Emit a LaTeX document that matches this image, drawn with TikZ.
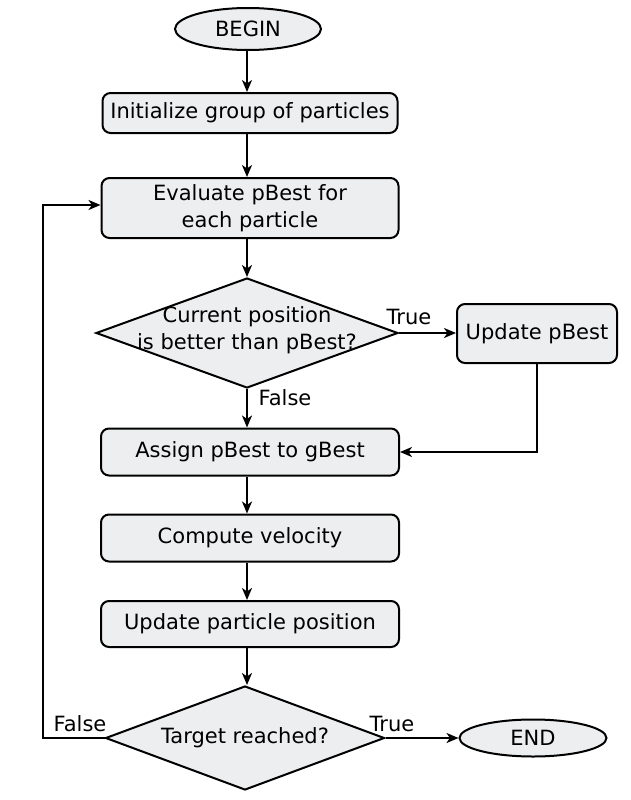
\documentclass[tikz,border=0pt]{standalone}
\usepackage{fontspec}
\setmainfont{DejaVu Sans}
\usetikzlibrary{shapes.geometric,arrows.meta}
\definecolor{boxfill}{HTML}{EDEEEF}
\begin{document}
\begin{tikzpicture}[x=1pt,y=-1pt,
  every node/.style={font=\fontsize{21}{27}\selectfont},
  base/.style={draw=black,line width=2pt,fill=boxfill,inner sep=0pt},
  procbox/.style={base,rectangle,rounded corners=8pt,align=center},
  term/.style={base,ellipse},
  decision/.style={base,diamond,align=center},
  lbl/.style={inner sep=0pt},
  conn/.style={line width=2pt,-{Stealth[length=12pt,width=10pt,inset=3.5pt]}}]
\useasboundingbox (0,0) rectangle (631,800);
\node[term,minimum width=146pt,minimum height=42pt] (begin) at (248,29) {BEGIN};
\node[procbox,minimum width=295pt,minimum height=40pt] (init) at (250,113) {Initialize group of particles};
\node[procbox,minimum width=297pt,minimum height=60pt] (eval) at (250,208) {Evaluate pBest for\\each particle};
\node[decision,shape aspect=2.75,minimum width=302pt,minimum height=110pt] (dec1) at (247,333) {};
\node[lbl,align=center] (dec1text) at (247,330) {Current position\\is better than pBest?};
\node[procbox,minimum width=160pt,minimum height=59pt] (upd) at (537,333.5) {Update pBest};
\node[procbox,minimum width=298pt,minimum height=47pt] (assign) at (250,452) {Assign pBest to gBest};
\node[procbox,minimum width=298pt,minimum height=47pt] (comp) at (250,538) {Compute velocity};
\node[procbox,minimum width=298pt,minimum height=46pt] (pos) at (250,624) {Update particle position};
\node[decision,shape aspect=2.7,minimum width=279pt,minimum height=104pt] (dec2) at (245,738) {Target reached?};
\node[term,minimum width=147pt,minimum height=37pt] (end) at (533,738) {END};
\coordinate (spine) at (247,0);
\coordinate (loopx) at (43,738);
\node[lbl] (t1) at (409,317) {True};
\node[lbl] (f1) at (285,398) {False};
\node[lbl] (f2) at (80,724) {False};
\node[lbl] (t2) at (392,724) {True};
\draw[conn] (begin.south -| spine) -- (init.north -| spine);
\draw[conn] (init.south -| spine) -- (eval.north -| spine);
\draw[conn] (eval.south -| spine) -- (dec1.north);
\draw[conn] (dec1.east) -- (upd.west |- dec1.east);
\draw[conn] (dec1.south) -- (assign.north -| spine);
\draw[conn] (upd.south) |- (assign.east);
\draw[conn] (assign.south -| spine) -- (comp.north -| spine);
\draw[conn] (comp.south -| spine) -- (pos.north -| spine);
\draw[conn] (pos.south -| spine) -- (dec2.north -| spine);
\draw[conn] (dec2.east) -- (end.west);
\draw[conn] (dec2.west) -- (loopx) |- ([yshift=3pt]eval.west);
\end{tikzpicture}
\end{document}
